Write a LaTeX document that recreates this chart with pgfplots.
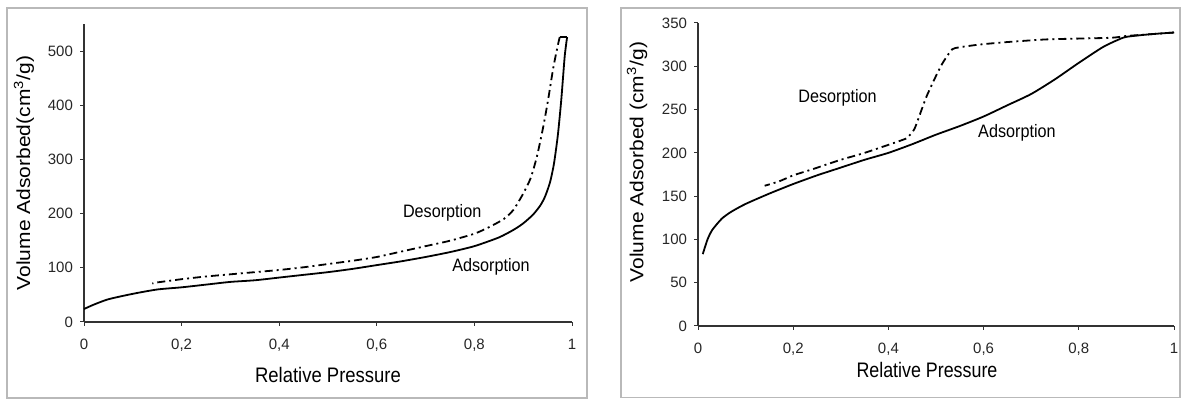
\documentclass[border=0pt]{standalone}
\usepackage{fontspec}
\setmainfont{Liberation Sans}
\usepackage{pgfplots}
\usepackage{graphicx}
\pgfplotsset{compat=1.18}

\pgfplotsset{myax/.style={
  scale only axis, axis lines*=left, xmin=0, xmax=1, ymin=0,
  tick align=outside, major tick length=2pt,
  every tick/.style={black!80, line width=0.5pt},
  axis line style={black!80, line width=0.6pt},
  xtick={0,0.2,0.4,0.6,0.8,1},
  xticklabels={0,{0,2},{0,4},{0,6},{0,8},1},
  tick label style={font=\fontsize{7.5}{8}\selectfont, text=black!85},
  /pgf/number format/assume math mode=true,
  xticklabel style={yshift=-3pt},
  label style={font=\fontsize{10.5}{12}\selectfont},
  clip=false,
}}
\tikzset{
  ads/.style={black, line width=0.9pt, smooth, tension=0.4},
  des/.style={black, line width=0.9pt, dash pattern=on 4pt off 2pt on 1pt off 2pt, smooth, tension=0.4},
  clab/.style={font=\fontsize{9}{10}\selectfont, xscale=0.9, inner sep=0pt},
}

\begin{document}
\begin{tikzpicture}
\draw[gray!55, line width=0.8pt] (3.5pt,1pt) rectangle (293.5pt,196pt);
\draw[gray!55, line width=0.8pt] (310.5pt,1.25pt) rectangle (590pt,196pt);

% ---------- left panel
\begin{axis}[myax, at={(42pt,39pt)}, anchor=south west,
  width=244pt, height=149pt, ymax=550,
  ytick={0,100,200,300,400,500},
  xlabel={\scalebox{0.88}[1]{Relative Pressure}},
  xlabel style={at={(axis description cs:0.5,-0.178)}, anchor=center},
  ylabel={\scalebox{1}[0.9]{Volume Adsorbed(cm\textsuperscript{3}/g)}},
  ylabel style={at={(axis description cs:-0.123,0.5)}, anchor=center},
]
\addplot[ads] coordinates {
(0,24) (0.02,32) (0.05,42) (0.1,52) (0.15,60) (0.2,64) (0.25,69) (0.3,74)
(0.35,77) (0.4,82) (0.45,87) (0.5,92) (0.55,98) (0.6,105) (0.65,112) (0.7,120)
(0.75,129) (0.8,140) (0.85,156) (0.88,170) (0.9,182) (0.92,198) (0.935,215)
(0.945,232) (0.955,258) (0.963,292) (0.971,345) (0.978,410) (0.985,490) (0.99,526)};
\addplot[black, line width=0.9pt] coordinates {(0.99,526) (0.975,526)};
\addplot[des] coordinates {
(0.975,526) (0.972,515) (0.962,471) (0.951,410) (0.941,360) (0.928,305)
(0.915,265) (0.9,237) (0.88,207) (0.86,190) (0.83,175) (0.8,163) (0.75,150)
(0.7,140) (0.65,130) (0.6,120) (0.55,113) (0.5,107) (0.45,101) (0.4,96)
(0.35,92) (0.3,88) (0.25,84) (0.2,79) (0.15,73) (0.14,71)};
\node[clab] at (axis cs:0.734,201) {Desorption};
\node[clab] at (axis cs:0.834,101) {Adsorption};
\end{axis}

% ---------- right panel
\begin{axis}[myax, at={(349pt,37pt)}, anchor=south west,
  width=238pt, height=151.5pt, ymax=350,
  ytick={0,50,100,150,200,250,300,350},
  xlabel={\scalebox{0.85}[1]{Relative Pressure}},
  xlabel style={at={(axis description cs:0.481,-0.145)}, anchor=center},
  ylabel={\scalebox{1}[0.9]{Volume Adsorbed (cm\textsuperscript{3}/g)}},
  ylabel style={at={(axis description cs:-0.128,0.541)}, anchor=center},
]
\addplot[ads] coordinates {
(0.01,83) (0.02,100) (0.03,111) (0.05,124) (0.07,132) (0.1,141) (0.15,153)
(0.2,164) (0.25,174) (0.3,183) (0.35,192) (0.4,200) (0.45,210) (0.5,221)
(0.55,231) (0.6,242) (0.65,255) (0.7,268) (0.75,285) (0.8,304) (0.85,322)
(0.88,330) (0.9,334) (0.95,337) (1.0,339)};
\addplot[des] coordinates {
(1.0,339) (0.95,337) (0.9,335) (0.87,333) (0.8,332) (0.73,331) (0.65,328)
(0.59,325) (0.54,321) (0.53,317) (0.51,300) (0.48,265) (0.455,228) (0.44,218)
(0.43,215) (0.35,200) (0.3,192) (0.24,181) (0.2,174) (0.17,167) (0.14,162)};
\node[clab] at (axis cs:0.293,263) {Desorption};
\node[clab] at (axis cs:0.67,223) {Adsorption};
\end{axis}

\pgfresetboundingbox
\path[use as bounding box] (0,0) rectangle (590.5pt,200pt);
\end{tikzpicture}
\end{document}
